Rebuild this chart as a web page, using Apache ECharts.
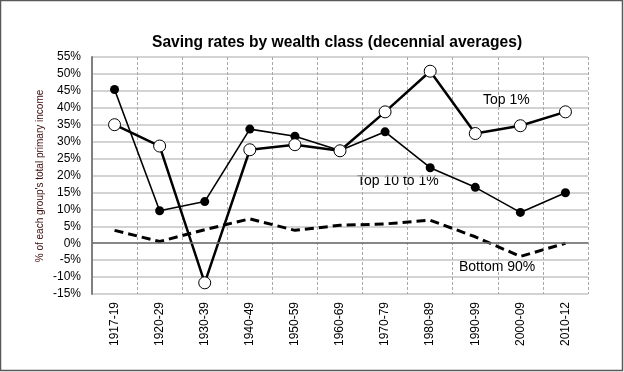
<!DOCTYPE html>
<html><head><meta charset="utf-8">
<script src="https://cdn.jsdelivr.net/npm/echarts@6/dist/echarts.min.js"></script>
<style>html,body{margin:0;padding:0;background:#fff}#c{width:624px;height:372px}</style>
</head><body><div id="c"></div>
<script>
const categories = ['1917-19','1920-29','1930-39','1940-49','1950-59','1960-69','1970-79','1980-89','1990-99','2000-09','2010-12'];
const top1 = [35.0, 28.7, -11.7, 27.6, 29.1, 27.3, 38.8, 50.8, 32.4, 34.7, 38.8];
const top10to1 = [45.4, 9.6, 12.3, 33.7, 31.6, 27.4, 32.9, 22.3, 16.5, 9.1, 14.9];
const bottom90 = [3.8, 0.5, 4.0, 7.2, 3.8, 5.3, 5.7, 6.8, 1.9, -3.9, 0.0];
const yTicks = {min: -15, max: 55, step: 5};
const titleText = 'Saving rates by wealth class (decennial averages)';
const yName = "% of each group's total primary income";

const chart = echarts.init(document.getElementById('c'), null, {renderer: 'canvas'});
const F = 'Liberation Sans, Arial, sans-serif';
chart.setOption({
  animation: false,
  backgroundColor: '#fff',
  title: {text: titleText, left: 152, top: 35, padding: 0,
    textStyle: {fontFamily: F, fontSize: 15.6, fontWeight: 'bold', color: '#000'}},
  grid: {left: 92, right: 36, top: 57, bottom: 78, containLabel: false},
  xAxis: {
    type: 'category', data: categories, boundaryGap: true,
    axisLine: {show: false}, axisTick: {show: false},
    axisLabel: {rotate: 90, margin: 8, fontFamily: F, fontSize: 12, color: '#000'},
    splitLine: {show: true, interval: 0, lineStyle: {type: [3, 2], color: '#a8a8a8', width: 1}}
  },
  yAxis: {
    type: 'value', min: yTicks.min, max: yTicks.max, interval: yTicks.step,
    axisLine: {show: true, lineStyle: {color: '#7f7f7f', width: 2}},
    axisTick: {show: false},
    axisLabel: {formatter: '{value}%', fontFamily: F, fontSize: 12, color: '#000', margin: 11},
    splitLine: {show: true, lineStyle: {color: '#c4c4c4', width: 1.5}}
  },
  series: [
    {name: 'Bottom 90%', type: 'line', data: bottom90, symbol: 'none',
     lineStyle: {color: '#000', width: 3, type: [9, 5]},
     markLine: {silent: true, symbol: 'none', label: {show: false},
       lineStyle: {color: '#6e6e6e', width: 1.5, type: 'solid'}, data: [{yAxis: 0}]}},
    {name: 'Top 10 to 1%', type: 'line', data: top10to1, symbol: 'circle', symbolSize: 9,
     lineStyle: {color: '#000', width: 1.6}, itemStyle: {color: '#000'}},
    {name: 'Top 1%', type: 'line', data: top1, symbol: 'circle', symbolSize: 12,
     lineStyle: {color: '#000', width: 2.5}, itemStyle: {color: '#fff', borderColor: '#000', borderWidth: 1}}
  ],
  graphic: [
    {type: 'rect', shape: {x: 0.5, y: 0.5, width: 622, height: 370}, style: {fill: 'none', stroke: '#595959', lineWidth: 1.5}, silent: true},
    {type: 'text', x: 40, y: 176, rotation: Math.PI / 2,
     style: {text: yName, font: '10px ' + F, fill: '#3a0a0a', align: 'center', verticalAlign: 'middle'}},
    {type: 'text', left: 483, top: 93, style: {text: 'Top 1%', font: '14px ' + F, fill: '#000'}},
    {type: 'text', left: 357, top: 174, style: {text: 'Top 10 to 1%', font: '14px ' + F, fill: '#000'}},
    {type: 'text', left: 459, top: 260, style: {text: 'Bottom 90%', font: '14px ' + F, fill: '#000'}}
  ]
});
</script></body></html>
